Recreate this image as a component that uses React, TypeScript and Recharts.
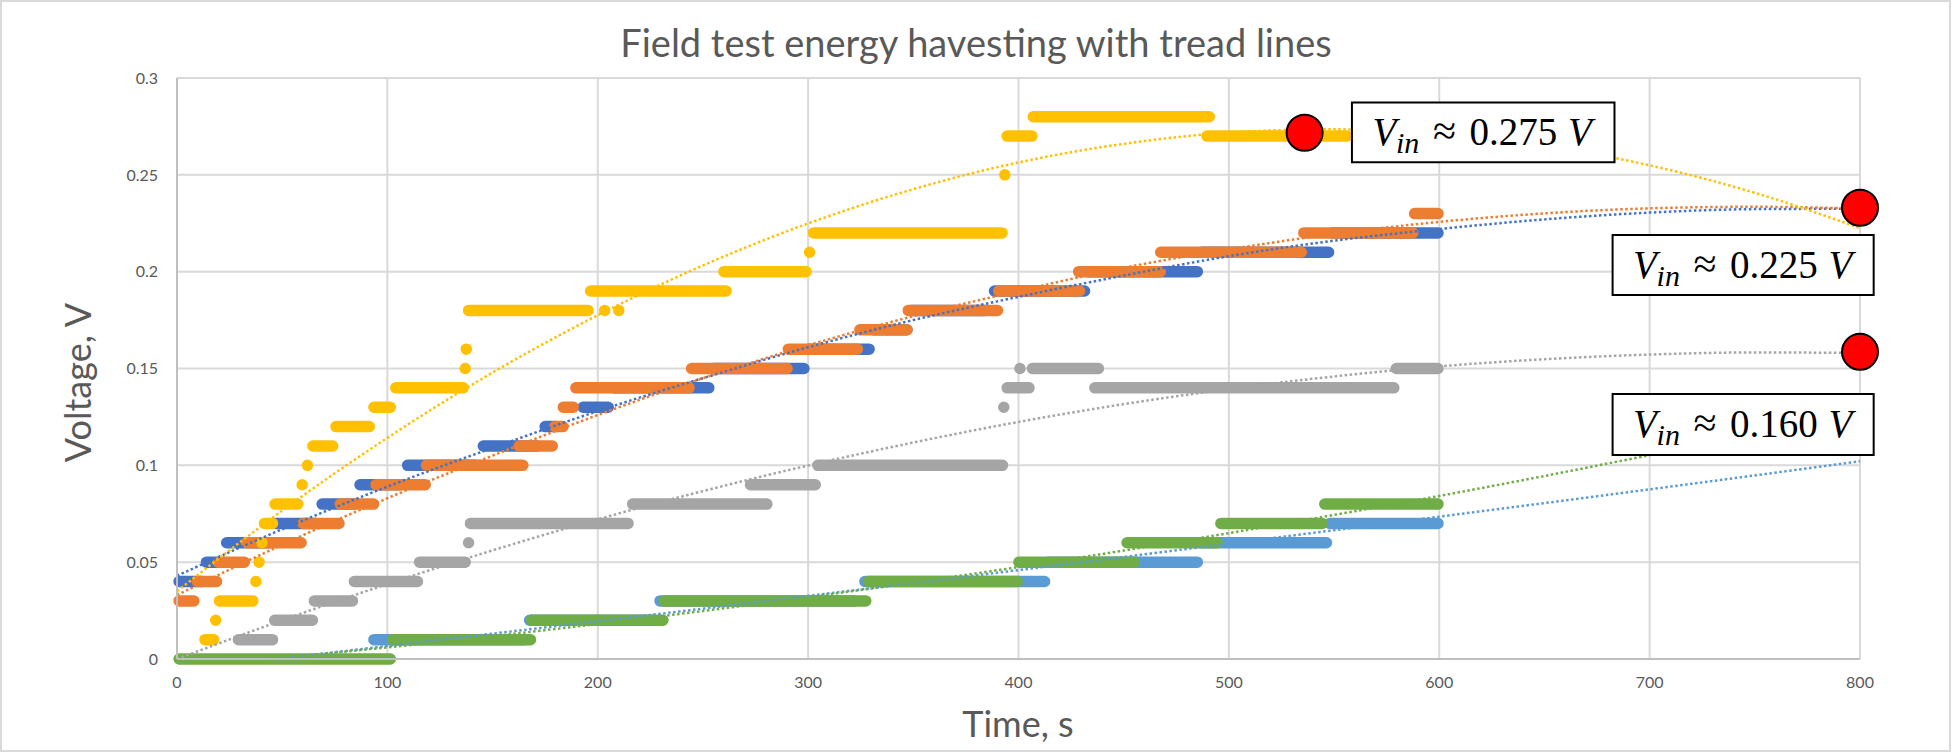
import {
  ComposedChart,
  Line,
  Scatter,
  XAxis,
  YAxis,
  CartesianGrid,
  ReferenceArea,
} from "recharts";

const W = 1952;
const H = 753;

const xTicks = [0, 100, 200, 300, 400, 500, 600, 700, 800];
const yTicks = [0, 0.05, 0.1, 0.15, 0.2, 0.25, 0.3];

// logged steps: [first sample s, last sample s, volts]
const darkBlueSteps = [
  [1, 12, 0.04], [14, 22, 0.05], [23.6, 44, 0.06], [47, 66, 0.07],
  [69, 84, 0.08], [87, 106, 0.09], [109.6, 142, 0.1], [145.6, 171, 0.11],
  [175, 180, 0.12], [193, 205, 0.13], [208, 252.8, 0.14], [255, 298, 0.15],
  [300, 329, 0.16], [331, 347, 0.17], [349, 384, 0.18], [388.6, 431.4, 0.19],
  [433, 485, 0.2], [487, 547.4, 0.21], [549, 599.4, 0.22],
];
const orangeSteps = [
  [1, 8, 0.03], [9.6, 18.8, 0.04], [19.6, 32, 0.05], [33, 59, 0.06],
  [60, 77, 0.07], [77.6, 93.4, 0.08], [94.6, 118, 0.09], [118.6, 164.4, 0.1],
  [162.6, 178.4, 0.11], [179.6, 183.4, 0.12], [183.6, 188.4, 0.13],
  [189.6, 243.4, 0.14], [244.6, 290, 0.15], [290.6, 323.4, 0.16],
  [324.6, 347, 0.17], [347.6, 390, 0.18], [390.6, 429, 0.19],
  [428.6, 467.4, 0.2], [467.6, 534.4, 0.21], [535.6, 587.4, 0.22],
  [588.3, 599.4, 0.23],
];
const graySteps = [
  [29.2, 45.4, 0.01], [46.4, 64.4, 0.02], [65.3, 83.4, 0.03], [84.3, 114.3, 0.04],
  [115.3, 137, 0.05], [138.6, 138.6, 0.06], [139.5, 214.4, 0.07],
  [216.6, 280.4, 0.08], [272.6, 303.4, 0.09], [304.6, 392.4, 0.1],
  [393, 393, 0.13], [394.6, 405, 0.14], [400.7, 400.7, 0.15], [406.6, 438, 0.15],
  [436.3, 578.4, 0.14], [579.6, 599.4, 0.15],
];
const yellowSteps = [
  [13.3, 17.4, 0.01], [18.4, 18.4, 0.02], [20.2, 36, 0.03], [37.5, 37.5, 0.04],
  [39, 39, 0.05], [40.4, 40.4, 0.06], [41.6, 45.4, 0.07], [46.6, 57.4, 0.08],
  [59.5, 59.5, 0.09], [62, 62, 0.1], [64.6, 74, 0.11], [75.6, 91.4, 0.12],
  [93.6, 101.4, 0.13], [104, 136, 0.14], [137, 137, 0.15], [137.5, 137.5, 0.16],
  [138.6, 195.4, 0.18], [203.3, 203.3, 0.18], [210, 210, 0.18],
  [196.6, 261, 0.19], [260, 299, 0.2], [300.7, 300.7, 0.21], [302.6, 392.2, 0.22],
  [393.5, 393.5, 0.25], [394.6, 406.4, 0.27], [407, 490.7, 0.28], [489.6, 556, 0.27],
];
const lightBlueSteps = [
  [93.6, 165, 0.01], [167.6, 227, 0.02], [229.6, 322, 0.03], [327, 412.4, 0.04],
  [414, 485, 0.05], [487.6, 546.4, 0.06], [548, 599.4, 0.07],
];
const greenSteps = [
  [1, 101.4, 0], [102.6, 168, 0.01], [168.6, 231, 0.02], [231.6, 327.4, 0.03],
  [328.6, 399.4, 0.04], [400.2, 455, 0.05], [451.6, 494.4, 0.06],
  [496.2, 544.4, 0.07], [545.6, 599.4, 0.08],
];

// trend lines: [s, volts]
const darkBlueTrend = [
  [0, 0.043], [50, 0.067], [100, 0.089], [150, 0.109], [200, 0.128], [250, 0.145],
  [300, 0.161], [350, 0.175], [400, 0.187], [450, 0.198], [500, 0.208], [550, 0.216],
  [600, 0.222], [650, 0.227], [700, 0.2305], [750, 0.2323], [800, 0.2325],
];
const orangeTrend = [
  [0, 0.033], [50, 0.059], [100, 0.083], [150, 0.105], [200, 0.126], [250, 0.145],
  [300, 0.162], [350, 0.177], [400, 0.19], [450, 0.202], [500, 0.2115], [550, 0.2195],
  [600, 0.2257], [650, 0.2301], [700, 0.2327], [750, 0.2335], [800, 0.2325],
];
const grayTrend = [
  [0, 0], [50, 0.02], [100, 0.0387], [150, 0.0561], [200, 0.0721], [250, 0.0867],
  [300, 0.0999], [350, 0.1118], [400, 0.1224], [450, 0.1316], [500, 0.1394],
  [550, 0.1459], [600, 0.1511], [650, 0.1548], [700, 0.1572], [750, 0.1583], [800, 0.158],
];
const yellowTrend = [
  [0, 0.035], [50, 0.0766], [100, 0.1142], [150, 0.1479], [200, 0.1775], [250, 0.2032],
  [300, 0.2249], [350, 0.2426], [400, 0.2564], [450, 0.266], [500, 0.2718], [550, 0.2735],
  [600, 0.2713], [650, 0.2651], [700, 0.2549], [750, 0.2407], [800, 0.2225],
];
const lightBlueTrend = [
  [47, 0], [100, 0.0067], [150, 0.0131], [200, 0.0195], [250, 0.026], [300, 0.0326],
  [350, 0.0392], [400, 0.0459], [450, 0.0527], [500, 0.0596], [550, 0.0665],
  [600, 0.0735], [650, 0.0805], [700, 0.0876], [750, 0.0948], [800, 0.1021],
];
const greenTrend = [
  [44, 0], [100, 0.006], [150, 0.0118], [200, 0.0181], [250, 0.0248], [300, 0.0319],
  [350, 0.0395], [400, 0.0475], [450, 0.056], [500, 0.065], [550, 0.0744],
  [600, 0.0842], [650, 0.0945], [700, 0.1053], [750, 0.1165], [800, 0.1281],
];

const peakMarkers = [
  [536, 0.2717],
  [800, 0.233],
  [800, 0.1586],
];

const vinLabels = ["0.275", "0.225", "0.160"];
// box corners in axis units
const vinBoxes = [
  { x1: 558.5, x2: 683.3, y1: 0.2565, y2: 0.2874 },
  { x1: 682.4, x2: 806.5, y1: 0.188, y2: 0.2189 },
  { x1: 682.4, x2: 806.5, y1: 0.1053, y2: 0.1368 },
];

const series = [
  { name: "s1", color: "#4472C4", steps: darkBlueSteps, trend: darkBlueTrend },
  { name: "s2", color: "#ED7D31", steps: orangeSteps, trend: orangeTrend },
  { name: "s3", color: "#A5A5A5", steps: graySteps, trend: grayTrend },
  { name: "s4", color: "#FFC000", steps: yellowSteps, trend: yellowTrend },
  { name: "s5", color: "#5B9BD5", steps: lightBlueSteps, trend: lightBlueTrend },
  { name: "s6", color: "#70AD47", steps: greenSteps, trend: greenTrend },
];

function stepRows(steps: number[][]) {
  const rows: { t: number; v: number | null }[] = [];
  for (const [a, b, v] of steps) {
    rows.push({ t: a, v }, { t: b, v }, { t: b, v: null });
  }
  return rows;
}

const toRows = (pts: number[][]) => pts.map(([t, v]) => ({ t, v }));

const TEXT = "#595959";
const FONT = "Lato, 'Open Sans', sans-serif";

function VinText(props: any) {
  const vb = props.viewBox || {};
  const x = vb.x ?? 0;
  const y = vb.y ?? 0;
  const serif = "'Liberation Serif', 'DejaVu Serif', serif";
  return (
    <text fontFamily={serif} fontSize={39} fill="#000">
      <tspan x={x + 20.5} y={y + 43} fontStyle="italic">V</tspan>
      <tspan x={x + 44} y={y + 50.5} fontStyle="italic" fontSize={30}>in</tspan>
      <tspan x={x + 81} y={y + 43} fontSize={42}>{"≈ "}</tspan>
      <tspan x={x + 117.5} y={y + 43}>{props.value + " "}</tspan>
      <tspan x={x + 216} y={y + 43} fontStyle="italic">V</tspan>
    </text>
  );
}

function RedDot(props: any) {
  return (
    <circle cx={props.cx} cy={props.cy} r={18} fill="#FF0000" stroke="#000" strokeWidth={2} />
  );
}

export default function App() {
  return (
    <div style={{ position: "absolute", left: 0, top: 0, width: W, height: H, background: "#fff" }}>
      <ComposedChart
        width={W}
        height={H}
        margin={{ top: 78, right: 92, bottom: 54, left: 77 }}
      >
        <CartesianGrid stroke="#d9d9d9" strokeWidth={2} />
        <XAxis
          dataKey="t"
          type="number"
          domain={[0, 800]}
          ticks={xTicks}
          height={40}
          axisLine={{ stroke: "#bfbfbf", strokeWidth: 2 }}
          tickLine={false}
          tickSize={0}
          tickMargin={18}
          tick={{ fill: TEXT, fontSize: 16, fontFamily: FONT }}
        />
        <YAxis
          dataKey="v"
          type="number"
          domain={[0, 0.3]}
          ticks={yTicks}
          width={100}
          axisLine={{ stroke: "#bfbfbf", strokeWidth: 2 }}
          tickLine={false}
          tickSize={0}
          tickMargin={19}
          tick={{ fill: TEXT, fontSize: 16, fontFamily: FONT }}
          tickFormatter={(v: number) => String(v)}
        />
        {series.map((s) => (
          <Line
            key={s.name}
            data={stepRows(s.steps)}
            dataKey="v"
            stroke={s.color}
            strokeWidth={11.5}
            strokeLinecap="round"
            strokeLinejoin="round"
            dot={false}
            activeDot={false}
            isAnimationActive={false}
          />
        ))}
        {series.map((s) => (
          <Line
            key={s.name + "-trend"}
            data={toRows(s.trend)}
            dataKey="v"
            type="monotone"
            stroke={s.color}
            strokeWidth={2.5}
            strokeDasharray="2.5 2.5"
            dot={false}
            activeDot={false}
            isAnimationActive={false}
          />
        ))}
        <Scatter
          data={toRows(peakMarkers)}
          dataKey="v"
          shape={<RedDot />}
          isAnimationActive={false}
          zIndex={700}
        />
        {vinBoxes.map((b, i) => (
          <ReferenceArea
            key={i}
            x1={b.x1}
            x2={b.x2}
            y1={b.y1}
            y2={b.y2}
            ifOverflow="visible"
            fill="#fff"
            fillOpacity={1}
            stroke="#000"
            strokeWidth={2}
            zIndex={1500}
            label={<VinText value={vinLabels[i]} />}
          />
        ))}
      </ComposedChart>
      <svg
        width={W}
        height={H}
        style={{ position: "absolute", left: 0, top: 0, pointerEvents: "none" }}
      >
        <rect x={1} y={1} width={W - 3} height={H - 3} fill="none" stroke="#d9d9d9" strokeWidth={2} />
        <text x={976} y={57} textAnchor="middle" fontFamily={FONT} fontSize={38} fill={TEXT}>
          Field test energy havesting with tread lines
        </text>
        <text
          x={91}
          y={382.5}
          transform="rotate(-90 91 382.5)"
          textAnchor="middle"
          fontFamily={FONT}
          fontSize={36}
          fill={TEXT}
        >
          Voltage, V
        </text>
        <text x={1018} y={737} textAnchor="middle" fontFamily={FONT} fontSize={36} fill={TEXT}>
          Time, s
        </text>
      </svg>
    </div>
  );
}
